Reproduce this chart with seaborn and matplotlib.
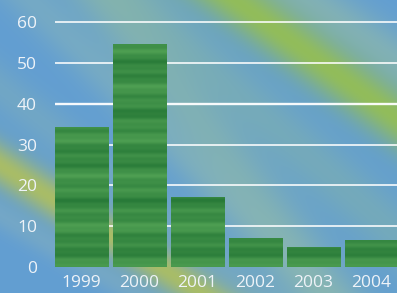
"""
Bar chart 1999-2004 on a textured blue/green background.
"""
import numpy as np
import matplotlib
matplotlib.use("Agg")
import matplotlib.pyplot as plt
import seaborn as sns

# data
years = ["1999", "2000", "2001", "2002", "2003", "2004"]
values = [34.3, 54.6, 17.1, 7.1, 4.9, 6.6]
y_ticks = [0, 10, 20, 30, 40, 50, 60]

W, H = 397, 293
TEXT = "#eef3f8"


def make_background():
    """Blue backdrop with soft diagonal green/yellow bands (decoration only)."""
    yy, xx = np.mgrid[0:H, 0:W].astype(float)
    img = np.ones((H, W, 3)) * np.array([98, 158, 210]) / 255.0
    # (x0, y0, x1, y1, half width, colour, strength)
    bands = [
        (110, 0, 300, 260, 34, (150, 190, 160), 0.55),
        (0, 165, 90, 222, 20, (176, 192, 92), 0.90),
        (0, 215, 60, 250, 14, (140, 180, 185), 0.40),
        (280, 130, 397, 235, 30, (138, 184, 160), 0.45),
        (310, 0, 397, 60, 26, (158, 194, 160), 0.50),
        (235, 0, 397, 118, 26, (154, 194, 70), 0.85),
        (30, 0, 70, 40, 22, (150, 190, 175), 0.35),
        (180, 230, 260, 293, 22, (140, 182, 175), 0.35),
    ]
    for x0, y0, x1, y1, w, col, s in bands:
        dx, dy = x1 - x0, y1 - y0
        n = np.hypot(dx, dy)
        d = np.abs((xx - x0) * dy - (yy - y0) * dx) / n
        a = (s * np.exp(-(d / w) ** 2))[..., None]
        img = img * (1 - a) + np.array(col) / 255.0 * a
    return img


def stripe_texture(n=400):
    """Horizontal stripes used to fill the bars."""
    y = np.linspace(0, 65, n)
    t = (0.45 + 0.20 * np.sin(2 * np.pi * y / 4.3)
         + 0.10 * np.sin(2 * np.pi * y / 1.7 + 1.0)
         + 0.18 * np.sin(2 * np.pi * y / 11.0 + 2.0))
    t = np.clip(t, 0, 1)[:, None, None]
    dark = np.array([40, 122, 56]) / 255.0
    light = np.array([84, 164, 86]) / 255.0
    rows = dark * (1 - t) + light * t
    return np.repeat(rows, 4, axis=1)


sns.set_style("white")
plt.rcParams["font.family"] = ["Open Sans", "DejaVu Sans"]

fig = plt.figure(figsize=(W / 100, H / 100), dpi=100)

bg = fig.add_axes([0, 0, 1, 1])
bg.imshow(make_background(), aspect="auto", interpolation="bilinear")
bg.axis("off")

# 10 units = 40.8 px, zero line at y=267 px
unit = 4.08
y_top = 65
ax = fig.add_axes([55 / W, (H - 267) / H, (W - 55) / W, y_top * unit / H])
ax.patch.set_alpha(0)

sns.barplot(x=years, y=values, color="#2f8a40", width=0.914,
            saturation=1, linewidth=0, edgecolor="none", ax=ax, zorder=2)

tex = stripe_texture()
for p in ax.patches:
    im = ax.imshow(tex, extent=(-0.5, 5.5, 0, y_top), origin="lower",
                   aspect="auto", zorder=3, interpolation="bilinear")
    im.set_clip_path(p)

ax.set_xlim(-0.457, 5.44)
ax.set_ylim(0, y_top)
ax.set_yticks(y_ticks)
for v in y_ticks[1:]:
    ax.axhline(v, color="white", lw=1.2 if v != 40 else 1.7, alpha=0.95, zorder=1)

for s in ax.spines.values():
    s.set_visible(False)
ax.tick_params(axis="y", length=0, pad=13, labelsize=12.5, labelcolor=TEXT)
ax.tick_params(axis="x", length=0, pad=6, labelsize=12.5, labelcolor=TEXT)
ax.set_xlabel("")
ax.set_ylabel("")

fig.savefig("out.png", dpi=100)
